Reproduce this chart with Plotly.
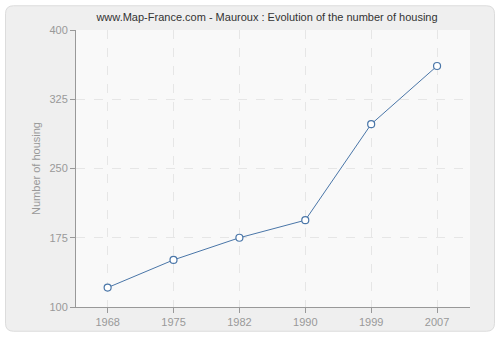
import plotly.graph_objects as go

years = ["1968", "1975", "1982", "1990", "1999", "2007"]
housing = [121, 151, 175, 194, 298, 361]
y_ticks = [100, 175, 250, 325, 400]

W, H = 500, 340
L, R, T, B = 76, 30, 30, 30
pw, ph = W - L - R, H - T - B

def px(x):
    return (x - L) / pw

def py(y):
    return (H - B - y) / ph

def rounded(x0, y0, x1, y1, r):
    def P(x, y):
        return f"{px(x):.5f},{py(y):.5f}"
    return (f"M {P(x0+r, y0)} L {P(x1-r, y0)} Q {P(x1, y0)} {P(x1, y0+r)} "
            f"L {P(x1, y1-r)} Q {P(x1, y1)} {P(x1-r, y1)} "
            f"L {P(x0+r, y1)} Q {P(x0, y1)} {P(x0, y1-r)} "
            f"L {P(x0, y0+r)} Q {P(x0, y0)} {P(x0+r, y0)} Z")

FONT = "Liberation Sans, Arial, sans-serif"

fig = go.Figure()
fig.add_trace(go.Scatter(
    x=years, y=housing, mode="lines+markers",
    line=dict(color="#4a76a8", width=1),
    marker=dict(symbol="circle", size=7, color="white",
                line=dict(color="#4a76a8", width=1.2)),
    hoverinfo="skip", showlegend=False,
))

fig.add_shape(type="path", path=rounded(5.5, 5.5, 494.5, 334.5, 8),
              xref="paper", yref="paper", layer="below",
              fillcolor="#efefef", line=dict(color="#dcdcdc", width=1))
fig.add_shape(type="rect", x0=0, x1=1, y0=0, y1=1,
              xref="paper", yref="paper", layer="below",
              fillcolor="#f9f9f9", line=dict(width=0))

fig.update_layout(
    width=W, height=H,
    margin=dict(l=L, r=R, t=T, b=B),
    paper_bgcolor="white",
    plot_bgcolor="#f9f9f9",
    title=dict(text="www.Map-France.com - Mauroux : Evolution of the number of housing",
               xref="paper", x=px(267), xanchor="center", y=1 - 17/H, yanchor="middle",
               font=dict(family=FONT, size=11, color="#333333")),
    font=dict(family=FONT, size=11, color="#999999"),
)
fig.update_xaxes(
    type="category", range=[-0.48, 5.5],
    showline=True, linecolor="#999999", linewidth=1,
    ticks="outside", ticklen=5, tickcolor="#999999",
    showgrid=True, gridcolor="#e6e6e6", griddash="dash", gridwidth=1,
    tickfont=dict(size=11, color="#999999"), zeroline=False, fixedrange=True,
)
fig.update_yaxes(
    range=[100, 400], tickvals=y_ticks,
    showline=True, linecolor="#999999", linewidth=1,
    ticks="outside", ticklen=5, tickcolor="#999999",
    showgrid=True, gridcolor="#e6e6e6", griddash="dash", gridwidth=1,
    tickfont=dict(size=11, color="#999999"), zeroline=False,
    title=dict(text="Number of housing", font=dict(size=11, color="#999999"), standoff=6),
)

fig.write_html("out.html")
